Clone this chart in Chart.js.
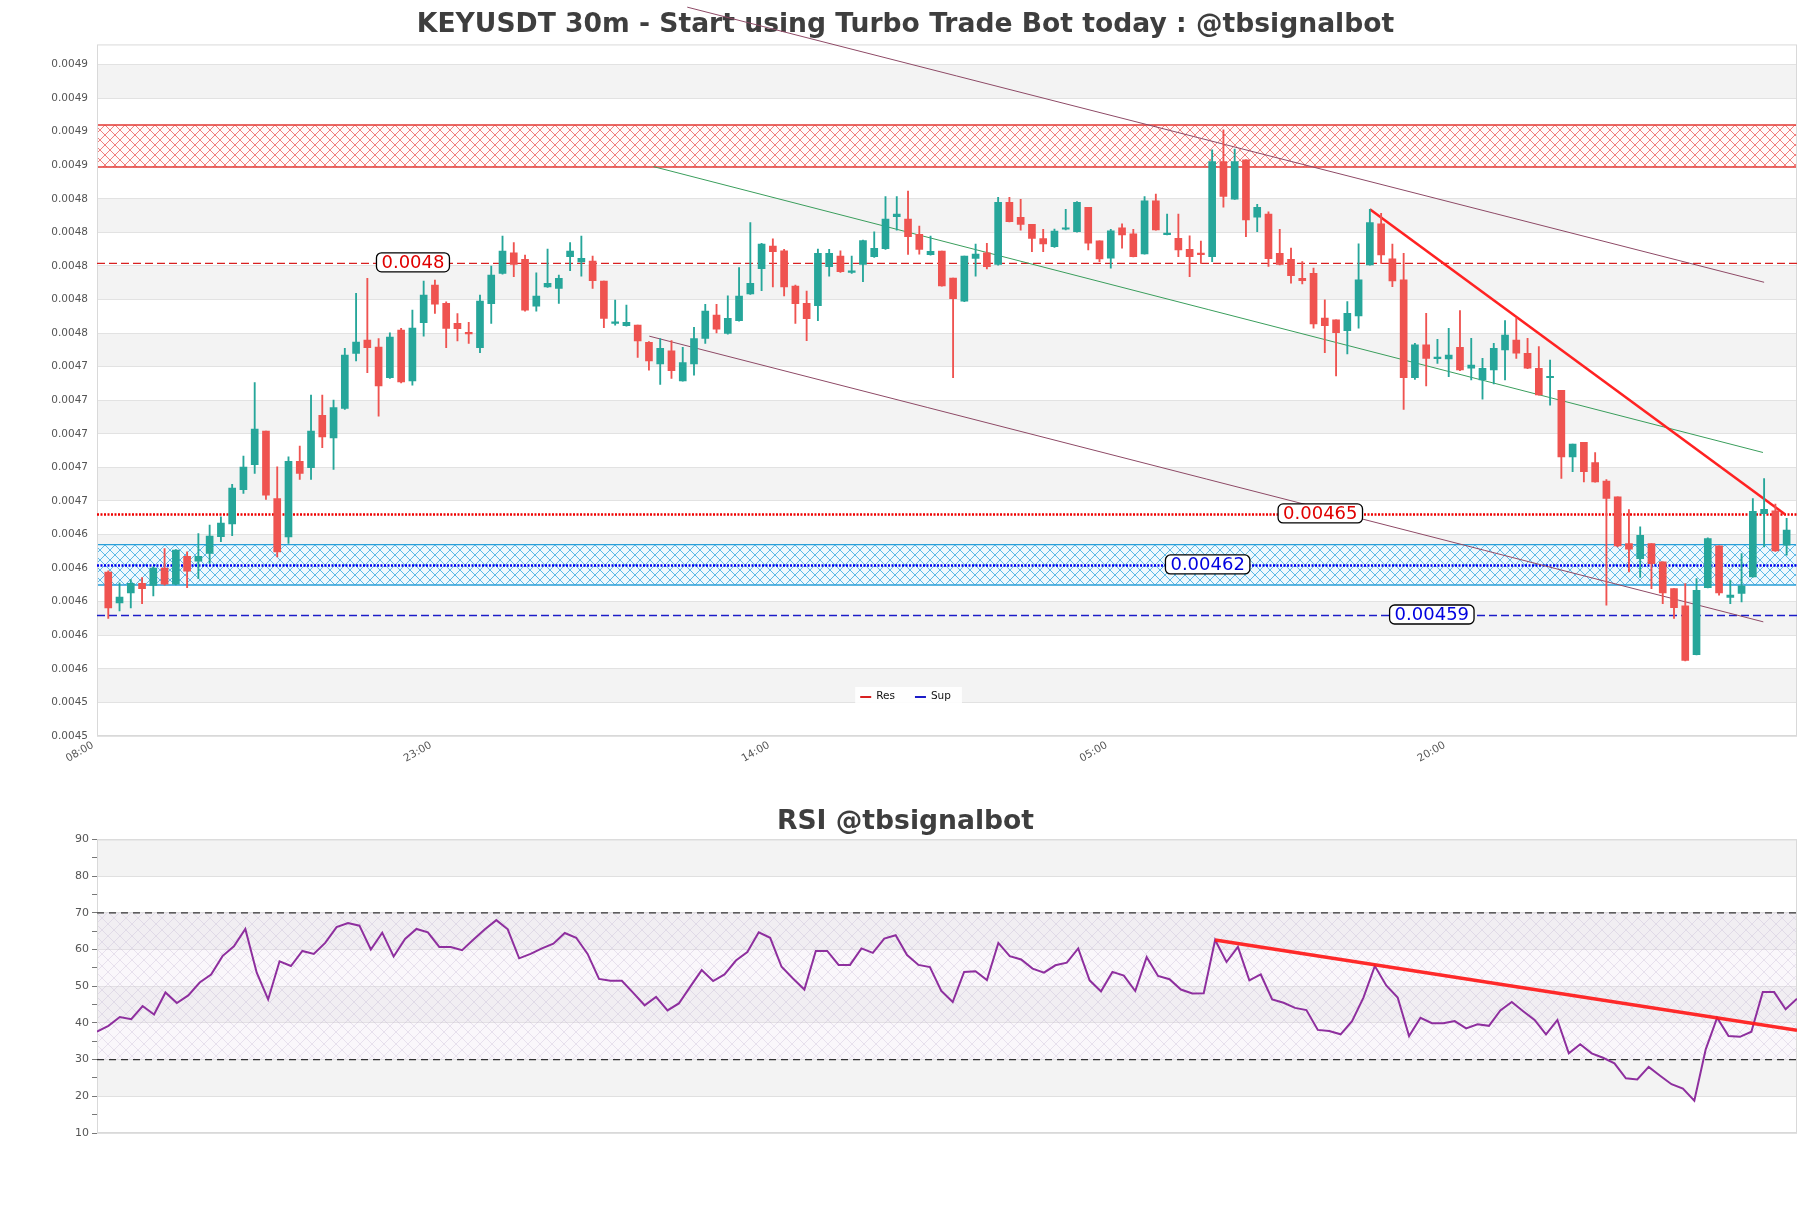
<!DOCTYPE html>
<html><head><meta charset="utf-8">
<script src="https://cdn.jsdelivr.net/npm/chart.js@4.4.1/dist/chart.umd.min.js"></script>
<style>
html,body{margin:0;padding:0;background:#fff;overflow:hidden;}
#wrap{position:relative;width:1811px;height:1208px;background:#fff;}
#mainC{position:absolute;left:0;top:0;width:1811px;height:780px;}
#rsiC{position:absolute;left:0;top:780px;width:1811px;height:428px;}
</style></head><body>
<div id="wrap"><canvas id="mainC" width="1811" height="780"></canvas><canvas id="rsiC" width="1811" height="428"></canvas></div>
<script>
const titleMain = 'KEYUSDT 30m - Start using Turbo Trade Bot today : @tbsignalbot';
const titleRsi = 'RSI @tbsignalbot';
const xTickPos = [0, 30, 60, 90, 120];
const xTickLabels = ['08:00', '23:00', '14:00', '05:00', '20:00'];
const xMin = 0, xMax = 150.92;
const yMin = 0.00452, yMax = 0.004932;
const yTicks = [0.00452,0.00454,0.00456,0.00458,0.0046,0.00462,0.00464,0.00466,0.00468,0.0047,0.00472,0.00474,0.00476,0.00478,0.0048,0.00482,0.00484,0.00486,0.00488,0.0049,0.00492];

const opens = [
0.0046176,0.0045993,0.0046053,0.0046110,0.0046097,0.0046200,0.0046104,0.0046271,0.0046242,0.0046287,
0.0046387,0.0046464,0.0046667,0.0046816,0.0047016,0.0046615,0.0046386,0.0046837,0.0046798,0.0047111,
0.0046976,0.0047151,0.0047479,0.0047559,0.0047517,0.0047334,0.0047618,0.0047316,0.0047662,0.0047886,
0.0047777,0.0047658,0.0047604,0.0047513,0.0047775,0.0047956,0.0048079,0.0048039,0.0047761,0.0047876,
0.0047866,0.0048055,0.0048025,0.0048029,0.0047910,0.0047658,0.0047644,0.0047648,0.0047545,0.0047417,
0.0047495,0.0047316,0.0047417,0.0047568,0.0047707,0.0047598,0.0047674,0.0047833,0.0047984,0.0048119,
0.0048091,0.0047880,0.0047777,0.0047763,0.0047996,0.0048059,0.0047962,0.0048009,0.0048055,0.0048103,
0.0048294,0.0048280,0.0048188,0.0048067,0.0048089,0.0047928,0.0047791,0.0048045,0.0048079,0.0048009,
0.0048379,0.0048290,0.0048248,0.0048164,0.0048115,0.0048219,0.0048205,0.0048350,0.0048150,0.0048046,
0.0048227,0.0048191,0.0048072,0.0048388,0.0048187,0.0048165,0.0048100,0.0048076,0.0048056,0.0048622,
0.0048398,0.0048632,0.0048291,0.0048310,0.0048076,0.0048040,0.0047927,0.0047957,0.0047689,0.0047679,
0.0047615,0.0047702,0.0048007,0.0048251,0.0048042,0.0047917,0.0047335,0.0047530,0.0047448,0.0047446,
0.0047516,0.0047391,0.0047321,0.0047381,0.0047500,0.0047559,0.0047480,0.0047391,0.0047334,0.0047260,
0.0046863,0.0046949,0.0046829,0.0046718,0.0046625,0.0046347,0.0046257,0.0046347,0.0046237,0.0046078,
0.0045975,0.0045685,0.0046084,0.0046333,0.0046025,0.0046049,0.0046148,0.0046525,0.0046541,0.0046337];

const highs = [
0.0046184,0.0046112,0.0046132,0.0046144,0.0046208,0.0046317,0.0046311,0.0046297,0.0046406,0.0046456,
0.0046506,0.0046700,0.0046867,0.0047306,0.0047016,0.0046804,0.0046863,0.0046927,0.0047231,0.0047231,
0.0047201,0.0047509,0.0047837,0.0047926,0.0047568,0.0047602,0.0047628,0.0047737,0.0047910,0.0047916,
0.0047787,0.0047717,0.0047664,0.0047827,0.0047999,0.0048178,0.0048139,0.0048065,0.0047960,0.0048101,
0.0047946,0.0048139,0.0048178,0.0048059,0.0047910,0.0047797,0.0047767,0.0047648,0.0047549,0.0047568,
0.0047555,0.0047515,0.0047634,0.0047771,0.0047771,0.0047823,0.0047990,0.0048258,0.0048135,0.0048162,
0.0048099,0.0047886,0.0047851,0.0048101,0.0048099,0.0048091,0.0048059,0.0048155,0.0048204,0.0048413,
0.0048413,0.0048447,0.0048238,0.0048178,0.0048089,0.0047928,0.0048059,0.0048131,0.0048135,0.0048409,
0.0048409,0.0048397,0.0048248,0.0048218,0.0048220,0.0048338,0.0048384,0.0048350,0.0048150,0.0048219,
0.0048251,0.0048219,0.0048414,0.0048428,0.0048310,0.0048310,0.0048179,0.0048148,0.0048692,0.0048811,
0.0048696,0.0048632,0.0048368,0.0048322,0.0048219,0.0048106,0.0048026,0.0047987,0.0047798,0.0047679,
0.0047788,0.0048132,0.0048338,0.0048314,0.0048130,0.0048076,0.0047540,0.0047718,0.0047563,0.0047629,
0.0047734,0.0047569,0.0047450,0.0047540,0.0047675,0.0047689,0.0047569,0.0047520,0.0047439,0.0047260,
0.0046939,0.0046949,0.0046889,0.0046728,0.0046625,0.0046549,0.0046446,0.0046347,0.0046237,0.0046078,
0.0046108,0.0046138,0.0046380,0.0046333,0.0046128,0.0046287,0.0046615,0.0046734,0.0046581,0.0046496];

const lows = [
0.0045900,0.0045945,0.0045963,0.0045989,0.0046035,0.0046098,0.0046100,0.0046083,0.0046138,0.0046228,
0.0046357,0.0046393,0.0046645,0.0046764,0.0046609,0.0046267,0.0046347,0.0046728,0.0046728,0.0046917,
0.0046788,0.0047145,0.0047435,0.0047364,0.0047106,0.0047330,0.0047304,0.0047290,0.0047582,0.0047717,
0.0047513,0.0047554,0.0047539,0.0047483,0.0047658,0.0047952,0.0047936,0.0047731,0.0047731,0.0047872,
0.0047777,0.0047972,0.0047940,0.0047866,0.0047632,0.0047648,0.0047642,0.0047455,0.0047380,0.0047294,
0.0047330,0.0047314,0.0047350,0.0047539,0.0047602,0.0047594,0.0047672,0.0047831,0.0047853,0.0047876,
0.0047821,0.0047658,0.0047555,0.0047674,0.0047940,0.0047962,0.0047956,0.0047906,0.0048051,0.0048099,
0.0048214,0.0048069,0.0048071,0.0048065,0.0047880,0.0047334,0.0047787,0.0047940,0.0047982,0.0048005,
0.0048262,0.0048214,0.0048085,0.0048085,0.0048111,0.0048215,0.0048201,0.0048096,0.0048026,0.0047987,
0.0048106,0.0048054,0.0048070,0.0048213,0.0048185,0.0048056,0.0047937,0.0048016,0.0048026,0.0048350,
0.0048396,0.0048175,0.0048205,0.0047997,0.0048006,0.0047897,0.0047893,0.0047629,0.0047484,0.0047345,
0.0047476,0.0047629,0.0048005,0.0048016,0.0047877,0.0047146,0.0047325,0.0047285,0.0047420,0.0047341,
0.0047377,0.0047321,0.0047206,0.0047297,0.0047321,0.0047450,0.0047389,0.0047230,0.0047171,0.0046734,
0.0046774,0.0046714,0.0046712,0.0045979,0.0046327,0.0046178,0.0046144,0.0046078,0.0045989,0.0045900,
0.0045647,0.0045683,0.0046082,0.0046039,0.0045989,0.0045999,0.0046146,0.0046327,0.0046299,0.0046277];

const closes = [
0.0045963,0.0046027,0.0046110,0.0046077,0.0046200,0.0046104,0.0046307,0.0046182,0.0046271,0.0046391,
0.0046468,0.0046677,0.0046802,0.0047028,0.0046635,0.0046297,0.0046837,0.0046764,0.0047016,0.0046982,
0.0047157,0.0047469,0.0047547,0.0047513,0.0047286,0.0047576,0.0047310,0.0047630,0.0047827,0.0047773,
0.0047628,0.0047626,0.0047596,0.0047791,0.0047946,0.0048089,0.0048010,0.0047737,0.0047821,0.0047896,
0.0047926,0.0048089,0.0048045,0.0047912,0.0047688,0.0047668,0.0047664,0.0047554,0.0047435,0.0047509,
0.0047376,0.0047425,0.0047568,0.0047731,0.0047624,0.0047688,0.0047821,0.0047896,0.0048131,0.0048085,
0.0047876,0.0047775,0.0047686,0.0048075,0.0048075,0.0047966,0.0047970,0.0048151,0.0048105,0.0048280,
0.0048310,0.0048174,0.0048099,0.0048087,0.0047882,0.0047805,0.0048059,0.0048071,0.0047996,0.0048379,
0.0048264,0.0048248,0.0048164,0.0048131,0.0048208,0.0048227,0.0048380,0.0048136,0.0048042,0.0048209,
0.0048185,0.0048056,0.0048388,0.0048215,0.0048191,0.0048096,0.0048056,0.0048068,0.0048622,0.0048414,
0.0048622,0.0048275,0.0048350,0.0048044,0.0048010,0.0047943,0.0047913,0.0047655,0.0047645,0.0047603,
0.0047718,0.0047917,0.0048259,0.0048066,0.0047911,0.0047335,0.0047530,0.0047450,0.0047454,0.0047470,
0.0047381,0.0047410,0.0047391,0.0047510,0.0047589,0.0047480,0.0047391,0.0047232,0.0047340,0.0046863,
0.0046939,0.0046774,0.0046714,0.0046615,0.0046333,0.0046313,0.0046396,0.0046227,0.0046053,0.0045965,
0.0045651,0.0046068,0.0046376,0.0046053,0.0046039,0.0046094,0.0046539,0.0046551,0.0046303,0.0046426];

const rsi = [
37.6,39.2,41.6,41.0,44.6,42.3,48.3,45.4,47.5,51.0,
53.2,58.2,60.9,65.6,53.7,46.4,56.8,55.5,59.6,58.8,
61.8,66.1,67.2,66.5,60.0,64.6,58.1,62.9,65.6,64.7,
60.7,60.7,59.8,62.7,65.5,68.0,65.5,57.6,58.8,60.3,
61.6,64.5,63.2,58.8,52.0,51.5,51.5,48.2,44.8,47.1,
43.4,45.3,49.9,54.4,51.4,53.2,57.0,59.3,64.7,63.2,
55.3,52.1,49.1,59.6,59.6,55.8,55.8,60.3,59.1,63.0,
63.9,58.5,55.8,55.2,48.7,45.7,53.9,54.1,51.7,61.8,
58.2,57.3,54.8,53.7,55.7,56.4,60.3,51.6,48.6,53.9,
52.9,48.7,57.9,52.8,51.9,49.1,48.0,48.1,62.6,56.6,
60.7,51.6,53.2,46.4,45.5,44.1,43.5,38.1,37.8,36.9,
40.5,46.9,55.5,50.2,46.9,36.4,41.4,39.9,39.9,40.5,
38.5,39.6,39.2,43.4,45.7,43.2,40.8,36.9,40.8,31.7,
34.2,31.7,30.5,29.0,24.9,24.6,28.0,25.6,23.3,22.1,
18.8,32.8,41.4,36.4,36.2,37.6,48.4,48.4,43.7,46.6];

const resLevel = 0.0048016, resLevel2 = 0.004652;
const supLevel = 0.0046216, supLevel2 = 0.0045918;
const levelLabels = ['0.0048', '0.00465', '0.00462', '0.00459'];
const levelValues = [resLevel, resLevel2, supLevel, supLevel2];
const levelLabelX = [28.05, 108.6, 98.6, 118.5];
const resZone = [0.004859, 0.004884];
const supZone = [0.00461, 0.004634];
const chanUpX = [52.4, 148.0], chanUpY = [0.0049542, 0.0047903];
const chanLowX = [49.03, 147.93], chanLowY = [0.0047582, 0.004588];
const chanMidX = [49.4, 147.9], chanMidY = [0.0048592, 0.0046889];
const trendX = [113, 149.85], trendY = [0.0048338, 0.0046521];
const rsiTrendX = [99, 150], rsiTrendY = [62.6, 38.0];
const rsiHigh = 70, rsiLow = 30;
const rsiTicks = [10,15,20,25,30,35,40,45,50,55,60,65,70,75,80,85,90];

Chart.defaults.font.family = "'DejaVu Sans', 'Liberation Sans', sans-serif";
Chart.defaults.animation = false;

const BULL = '#26a69a', BEAR = '#ef5350';
const candleColors = opens.map((o, i) => closes[i] >= o ? BULL : BEAR);

function hatchCanvas(color, bg, size, lw) {
  const c = document.createElement('canvas'); c.width = size; c.height = size;
  const g = c.getContext('2d');
  if (bg) { g.fillStyle = bg; g.fillRect(0, 0, size, size); }
  g.strokeStyle = color; g.lineWidth = lw;
  g.beginPath();
  g.moveTo(0, 0); g.lineTo(size, size);
  g.moveTo(size, 0); g.lineTo(0, size);
  g.stroke();
  return c;
}

function seg(xs, ys) { return xs.map((x, i) => ({x: x, y: ys[i]})); }
function hline(v) { return [{x: xMin, y: v}, {x: xMax, y: v}]; }

const mainPlugin = {
  id: 'mainDecor',
  beforeDraw(chart) {
    const {ctx, chartArea: a, scales: {y}} = chart;
    ctx.save();
    ctx.fillStyle = '#f3f3f3';
    for (let i = 1; i < yTicks.length - 1; i += 2) {
      const p0 = y.getPixelForValue(yTicks[i]), p1 = y.getPixelForValue(yTicks[i + 1]);
      ctx.fillRect(a.left, p1, a.right - a.left, p0 - p1);
    }
    ctx.restore();
  },
  beforeDatasetsDraw(chart) {
    const {ctx, chartArea: a, scales: {y}} = chart;
    ctx.save();
    const zones = [
      {z: resZone, pat: hatchCanvas('rgba(232,60,55,0.72)', '#fffafa', 10, 0.9), edge: '#e23a35'},
      {z: supZone, pat: hatchCanvas('rgba(35,160,220,0.8)', '#eef8fd', 10, 0.9), edge: '#2a9fd8'}
    ];
    zones.forEach(o => {
      const top = y.getPixelForValue(o.z[1]), bot = y.getPixelForValue(o.z[0]);
      ctx.fillStyle = ctx.createPattern(o.pat, 'repeat');
      ctx.fillRect(a.left, top, a.right - a.left, bot - top);
      ctx.strokeStyle = o.edge; ctx.lineWidth = 1.4;
      ctx.beginPath();
      ctx.moveTo(a.left, top); ctx.lineTo(a.right, top);
      ctx.moveTo(a.left, bot); ctx.lineTo(a.right, bot);
      ctx.stroke();
    });
    ctx.strokeStyle = '#d9d9d9'; ctx.lineWidth = 1;
    ctx.strokeRect(a.left + 0.5, a.top + 0.5, a.right - a.left - 1, a.bottom - a.top - 1);
    ctx.restore();
  },
  afterDatasetsDraw(chart) {
    const {ctx, scales: {x, y}} = chart;
    ctx.save();
    ctx.font = "18px 'DejaVu Sans'";
    ctx.textAlign = 'center'; ctx.textBaseline = 'middle';
    levelLabels.forEach((t, i) => {
      const cx = x.getPixelForValue(levelLabelX[i]), cy = y.getPixelForValue(levelValues[i]);
      const w = ctx.measureText(t).width + 10, h = 19;
      ctx.beginPath();
      ctx.roundRect(cx - w / 2, cy - h / 2 - 1, w, h, 5);
      ctx.fillStyle = '#ffffff'; ctx.fill();
      ctx.strokeStyle = '#000'; ctx.lineWidth = 1.3; ctx.stroke();
      ctx.fillStyle = i < 2 ? '#e00000' : '#0000e0';
      ctx.fillText(t, cx, cy);
    });
    ctx.restore();
  },
  afterDraw(chart) {
    const {ctx, chartArea: a} = chart;
    const items = chart.data.datasets.filter(d => d.label === 'Res' || d.label === 'Sup');
    ctx.save();
    const bx = a.left + 0.446 * (a.right - a.left), bh = 18, by = a.bottom - 31 - bh;
    ctx.font = "10.5px 'DejaVu Sans'";
    let w = 8;
    items.forEach(d => { w += 15 + ctx.measureText(d.label).width + 20; });
    w -= 10;
    ctx.fillStyle = 'rgba(255,255,255,0.9)';
    ctx.fillRect(bx, by, w, bh);
    let cx = bx + 5;
    ctx.textBaseline = 'middle'; ctx.textAlign = 'left';
    items.forEach(d => {
      ctx.strokeStyle = d.borderColor; ctx.lineWidth = 2;
      ctx.beginPath(); ctx.moveTo(cx, by + bh / 2 + 1); ctx.lineTo(cx + 11, by + bh / 2 + 1); ctx.stroke();
      ctx.fillStyle = '#111';
      ctx.fillText(d.label, cx + 16, by + bh / 2);
      cx += 16 + ctx.measureText(d.label).width + 20;
    });
    ctx.restore();
  }
};

new Chart(document.getElementById('mainC'), {
  type: 'bar',
  data: {
    datasets: [
      {type: 'bar', label: 'body', data: opens.map((o, i) => ({x: i + 1, y: [o, closes[i]]})),
       backgroundColor: candleColors, barThickness: 7, grouped: false, minBarLength: 1.5, order: 0},
      {type: 'bar', label: 'wick', data: lows.map((l, i) => ({x: i + 1, y: [l, highs[i]]})),
       backgroundColor: candleColors, barThickness: 1.2, grouped: false, order: 1},
      {type: 'line', label: 'trend', data: seg(trendX, trendY), borderColor: '#ff2222', borderWidth: 2.6,
       pointRadius: 0, fill: false, order: 2},
      {type: 'line', label: 'chanUp', data: seg(chanUpX, chanUpY), borderColor: '#8e4a66', borderWidth: 1,
       pointRadius: 0, fill: false, clip: false, order: 3},
      {type: 'line', label: 'chanLow', data: seg(chanLowX, chanLowY), borderColor: '#8e4a66', borderWidth: 1,
       pointRadius: 0, fill: false, order: 3},
      {type: 'line', label: 'chanMid', data: seg(chanMidX, chanMidY), borderColor: '#3a9e5c', borderWidth: 1,
       pointRadius: 0, fill: false, order: 3},
      {type: 'line', label: 'Res', data: hline(resLevel), borderColor: '#d82020', borderWidth: 1.3,
       borderDash: [8, 4], pointRadius: 0, fill: false, order: 4},
      {type: 'line', label: 'res2', data: hline(resLevel2), borderColor: '#ee0000', borderWidth: 2.4,
       borderDash: [2, 1.5], pointRadius: 0, fill: false, order: 4},
      {type: 'line', label: 'sup', data: hline(supLevel), borderColor: '#0000ee', borderWidth: 2.4,
       borderDash: [2, 1.5], pointRadius: 0, fill: false, order: 4},
      {type: 'line', label: 'Sup', data: hline(supLevel2), borderColor: '#1c1cc8', borderWidth: 1.3,
       borderDash: [8, 4], pointRadius: 0, fill: false, order: 4}
    ]
  },
  options: {
    responsive: false, devicePixelRatio: 1, animation: false, events: [],
    layout: {padding: {left: 14, right: 14, top: 0, bottom: 0}},
    plugins: {
      legend: {display: false}, tooltip: {enabled: false},
      title: {display: true, text: titleMain, color: '#3e3e3e',
              font: {size: 26.6, weight: 'bold'}, padding: {top: 9.5, bottom: 3}}
    },
    scales: {
      x: {type: 'linear', min: xMin, max: xMax, offset: false,
          grid: {display: false, drawTicks: false, offset: false}, border: {display: false},
          afterBuildTicks: s => { s.ticks = xTickPos.map(v => ({value: v})); },
          ticks: {autoSkip: false, minRotation: 30, maxRotation: 30, padding: 3, color: '#555',
                  font: {size: 10.5}, labelOffset: -4,
                  callback: v => { const k = xTickPos.indexOf(v); return k >= 0 ? xTickLabels[k] : ''; }},
          afterFit: s => { s.height = 44; }},
      y: {type: 'linear', min: yMin, max: yMax,
          afterBuildTicks: s => { s.ticks = yTicks.map(v => ({value: v})); },
          ticks: {autoSkip: false, color: '#555', font: {size: 10.5}, padding: 9,
                  callback: v => Number(v).toFixed(4)},
          grid: {color: '#e2e2e2', lineWidth: 1, drawTicks: false}, border: {display: false},
          afterFit: s => { s.width = 83; }}
    }
  },
  plugins: [mainPlugin]
});

const rsiPlugin = {
  id: 'rsiDecor',
  beforeDraw(chart) {
    const {ctx, chartArea: a, scales: {y}} = chart;
    ctx.save();
    ctx.fillStyle = '#f3f3f3';
    [[20, 30], [40, 50], [60, 70], [80, 90]].forEach(b => {
      const p0 = y.getPixelForValue(b[0]), p1 = y.getPixelForValue(b[1]);
      ctx.fillRect(a.left, p1, a.right - a.left, p0 - p1);
    });
    ctx.restore();
  },
  beforeDatasetsDraw(chart) {
    const {ctx, chartArea: a, scales: {y}} = chart;
    ctx.save();
    const top = y.getPixelForValue(rsiHigh), bot = y.getPixelForValue(rsiLow);
    ctx.fillStyle = ctx.createPattern(hatchCanvas('rgba(175,160,195,0.32)', null, 12, 1), 'repeat');
    ctx.fillRect(a.left, top, a.right - a.left, bot - top);
    ctx.fillStyle = 'rgba(235,225,240,0.25)';
    ctx.fillRect(a.left, top, a.right - a.left, bot - top);
    ctx.strokeStyle = '#d9d9d9'; ctx.lineWidth = 1;
    ctx.strokeRect(a.left + 0.5, a.top + 0.5, a.right - a.left - 1, a.bottom - a.top - 1);
    ctx.restore();
  }
};

new Chart(document.getElementById('rsiC'), {
  type: 'line',
  data: {
    datasets: [
      {label: 'RSI trend', data: seg(rsiTrendX, rsiTrendY), borderColor: 'rgba(255,25,25,0.92)', borderWidth: 3.5,
       pointRadius: 0, fill: false, order: 0},
      {label: 'RSI', data: rsi.map((v, i) => ({x: i + 1, y: v})), borderColor: '#8e2f9e', borderWidth: 2,
       pointRadius: 0, fill: false, tension: 0, order: 1},
      {label: '70', data: [{x: 1, y: rsiHigh}, {x: rsi.length, y: rsiHigh}], borderColor: '#333', borderWidth: 1.2,
       borderDash: [7, 5], pointRadius: 0, fill: false, order: 2},
      {label: '30', data: [{x: 1, y: rsiLow}, {x: rsi.length, y: rsiLow}], borderColor: '#333', borderWidth: 1.2,
       borderDash: [7, 5], pointRadius: 0, fill: false, order: 2}
    ]
  },
  options: {
    responsive: false, devicePixelRatio: 1, animation: false, events: [],
    layout: {padding: {left: 14, right: 14, top: 0, bottom: 75}},
    plugins: {
      legend: {display: false}, tooltip: {enabled: false},
      title: {display: true, text: titleRsi, color: '#3e3e3e',
              font: {size: 26.6, weight: 'bold'}, padding: {top: 26, bottom: 1.5}}
    },
    scales: {
      x: {type: 'linear', min: 1, max: rsi.length, display: false},
      y: {type: 'linear', min: 10, max: 90,
          afterBuildTicks: s => { s.ticks = rsiTicks.map(v => ({value: v})); },
          ticks: {autoSkip: false, color: '#555', font: {size: 11}, padding: 3,
                  callback: v => (v % 10 === 0 ? String(v) : '')},
          grid: {color: c => (c.tick && c.tick.value % 10 === 0 ? '#e0e0e0' : 'rgba(0,0,0,0)'),
                 tickColor: '#777', tickLength: 5, drawTicks: true},
          border: {display: false},
          afterFit: s => { s.width = 83; }}
    }
  },
  plugins: [rsiPlugin]
});
</script>
</body></html>
